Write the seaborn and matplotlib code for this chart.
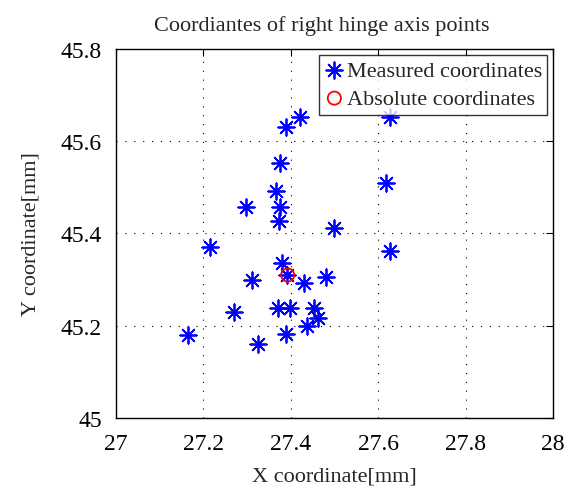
import matplotlib
matplotlib.use('Agg')
import matplotlib.pyplot as plt
import seaborn as sns

# measured points
meas_x = [27.421, 27.389, 27.627, 27.376, 27.618, 27.366, 27.297, 27.376, 27.372,
          27.500, 27.215, 27.627, 27.379, 27.391, 27.311, 27.431, 27.481, 27.370,
          27.398, 27.453, 27.463, 27.438, 27.270, 27.164, 27.389, 27.326]
meas_y = [45.652, 45.631, 45.652, 45.553, 45.509, 45.492, 45.458, 45.458, 45.427,
          45.413, 45.370, 45.361, 45.337, 45.310, 45.300, 45.292, 45.305, 45.239,
          45.239, 45.239, 45.217, 45.199, 45.230, 45.179, 45.182, 45.160]
abs_x = [27.393]
abs_y = [45.310]

xticks = [27, 27.2, 27.4, 27.6, 27.8, 28]
yticks = [45, 45.2, 45.4, 45.6, 45.8]

sns.set_style('white')
plt.rcParams['font.family'] = ['Liberation Serif', 'DejaVu Serif']

fig = plt.figure(figsize=(5.73, 4.89), dpi=100)
ax = fig.add_axes([0.2024, 0.1431, 0.7626, 0.7547])

sns.scatterplot(x=meas_x, y=meas_y, marker=(8, 2, 0), s=140, color='blue',
                edgecolor='blue', linewidth=1.3, ax=ax, label='Measured coordinates', zorder=3)
sns.scatterplot(x=abs_x, y=abs_y, marker='o', s=90, facecolor='none',
                edgecolor='red', linewidth=1.3, ax=ax, label='Absolute coordinates', zorder=4)

ax.set_xlim(27, 28)
ax.set_ylim(45, 45.8)
ax.set_xticks(xticks)
ax.set_yticks(yticks)
ax.set_xticklabels(['27', '27.2', '27.4', '27.6', '27.8', '28'])
ax.set_yticklabels(['45', '45.2', '45.4', '45.6', '45.8'])
ax.grid(True, linestyle=(0, (1, 7)), color='black', linewidth=0.8)
ax.tick_params(direction='in', top=True, right=True, length=5, labelsize=17, colors='black')
ax.tick_params(axis='x', pad=11)
ax.tick_params(axis='y', pad=10)
for sp in ax.spines.values():
    sp.set_color('black')
    sp.set_linewidth(1.0)

ax.set_title('Coordiantes of right hinge axis points', fontsize=16, pad=14, x=0.471)
ax.set_xlabel('X coordinate[mm]', fontsize=16, labelpad=9)
ax.set_ylabel('Y coordinate[mm]', fontsize=16, labelpad=15)

leg = ax.legend(loc='upper right', fontsize=16, frameon=True, fancybox=False,
                borderaxespad=0.25, handletextpad=0.1, borderpad=0.25, labelspacing=0.35,
                handlelength=0.9, markerscale=1.0)
leg.get_frame().set_edgecolor('black')
leg.get_frame().set_linewidth(1.0)
leg.set_zorder(10)

fig.savefig('out.png', dpi=100)
